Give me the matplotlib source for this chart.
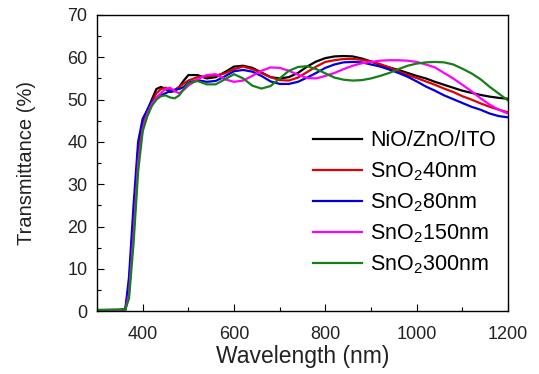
import matplotlib
matplotlib.use('Agg')
import matplotlib.pyplot as plt
from matplotlib.ticker import MultipleLocator

plt.rcParams['font.family'] = ['Liberation Sans', 'DejaVu Sans']
plt.rcParams['mathtext.default'] = 'regular'

# wavelength grid (nm)
wavelength = [300, 340, 362, 370, 380, 390, 400, 410, 420, 430, 440, 450, 460, 470, 480, 490,
              500, 520, 540, 560, 580, 600, 620, 640, 660, 680, 700, 720, 740, 760, 780, 800,
              820, 840, 860, 880, 900, 920, 940, 960, 980, 1000, 1020, 1040, 1060, 1080, 1100,
              1120, 1140, 1160, 1180, 1200]

t_ref = [0.2, 0.2, 0.3, 6, 22, 38, 45, 47.5, 50, 52.5, 53, 52.5, 51.8, 52, 53, 54.5,
         55.8, 55.8, 55, 55.3, 56.5, 57.8, 58, 57.5, 56.4, 55.3, 55, 55.3, 56.3, 57.8, 59, 59.8,
         60.2, 60.3, 60.2, 59.7, 59, 58.2, 57.6, 57, 56.3, 55.6, 55, 54.2, 53.5, 52.8, 52.1,
         51.6, 51.1, 50.7, 50.4, 50.2]

t_40 = [0.2, 0.2, 0.3, 5, 20, 37, 44.5, 47, 49.5, 51.5, 52.5, 52.8, 52.3, 52.3, 53, 53.8,
        54.5, 55.3, 55.5, 55.7, 56.2, 57.2, 57.8, 57.2, 56.3, 55.3, 54.6, 54.5, 55.2, 56.5, 57.8, 58.9,
        59.3, 59.6, 59.6, 59.4, 59, 58.4, 57.6, 56.7, 55.8, 55.1, 54.3, 53.5, 52.6, 51.8, 50.8,
        50, 49.1, 48.3, 47.6, 47]

t_80 = [0.2, 0.2, 0.5, 8, 25, 40, 45.5, 47.5, 49.5, 50.5, 51, 51.5, 52, 52.3, 52.5, 53,
        54, 54.6, 54.2, 54.4, 55.5, 56.7, 57, 56.6, 55.6, 54.3, 53.7, 53.7, 54.2, 55.2, 56.3, 57.5,
        58.3, 58.8, 58.9, 58.8, 58.3, 57.8, 57.1, 56.3, 55.4, 54.3, 53.1, 52.1, 51, 50.1, 49.2,
        48.3, 47.6, 46.7, 46.1, 45.8]

t_150 = [0.2, 0.2, 0.3, 4, 18, 35, 43, 46.5, 49, 50.5, 51.5, 52.5, 52.8, 52, 51.5, 52.3,
         53.3, 54.8, 55.8, 56, 54.8, 54.2, 54.5, 55.6, 56.8, 57.6, 57.5, 56.8, 55.9, 55.1, 55, 55.6,
         56.3, 57.2, 58, 58.6, 58.9, 59.2, 59.3, 59.3, 59.2, 58.9, 58.3, 57.6, 56.3, 55, 53.5,
         52, 50.3, 48.8, 47.6, 46.7]

t_300 = [0.3, 0.4, 0.4, 3, 16, 33, 42.5, 46, 48.5, 50, 50.8, 51, 50.5, 50.3, 51, 52.5,
         53.8, 54.4, 53.6, 53.6, 54.8, 56, 55, 53.3, 52.6, 53.2, 55, 56.8, 57.7, 57.9, 57.2, 56.2,
         55.2, 54.7, 54.5, 54.6, 55, 55.6, 56.3, 57.2, 58, 58.5, 58.8, 58.9, 58.8, 58.3, 57.3,
         56.2, 54.8, 53, 51.4, 49.8]

labels = ['NiO/ZnO/ITO', 'SnO$_2$40nm', 'SnO$_2$80nm', 'SnO$_2$150nm', 'SnO$_2$300nm']
series = [t_ref, t_40, t_80, t_150, t_300]
line_colors = ['black', '#e00000', '#0000dd', '#ff00ff', '#168016']

fig = plt.figure(figsize=(5.39, 3.74), dpi=100)
ax = fig.add_axes([0.18, 0.168, 0.7625, 0.792])

for y, lab, c in zip(series, labels, line_colors):
    ax.plot(wavelength, y, color=c, lw=1.6, label=lab)

ax.set_xlim(300, 1200)
ax.set_ylim(0, 70)
ax.xaxis.set_major_locator(MultipleLocator(200))
ax.xaxis.set_minor_locator(MultipleLocator(100))
ax.yaxis.set_major_locator(MultipleLocator(10))
ax.yaxis.set_minor_locator(MultipleLocator(5))
ax.tick_params(which='both', direction='in', top=False, right=False,
               labelsize=13, labelcolor='#222222', width=0.8)
ax.tick_params(which='major', length=5)
ax.tick_params(which='minor', length=3)
ax.tick_params(axis='x', which='major', pad=11)
ax.tick_params(axis='y', which='major', pad=7)
ax.set_xticks([400, 600, 800, 1000, 1200])
for s in ax.spines.values():
    s.set_linewidth(1.0)

ax.set_xlabel('Wavelength (nm)', fontsize=16.5, color='#222222', labelpad=1)
ax.set_ylabel('Transmittance (%)', fontsize=14.5, color='#222222', labelpad=22)

ax.legend(loc='upper left', bbox_to_anchor=(0.525, 0.61), frameon=False,
          fontsize=15.5, handlelength=2.3, handletextpad=0.37, labelspacing=0.4,
          borderaxespad=0, borderpad=0)

fig.savefig('out.png', dpi=100)
